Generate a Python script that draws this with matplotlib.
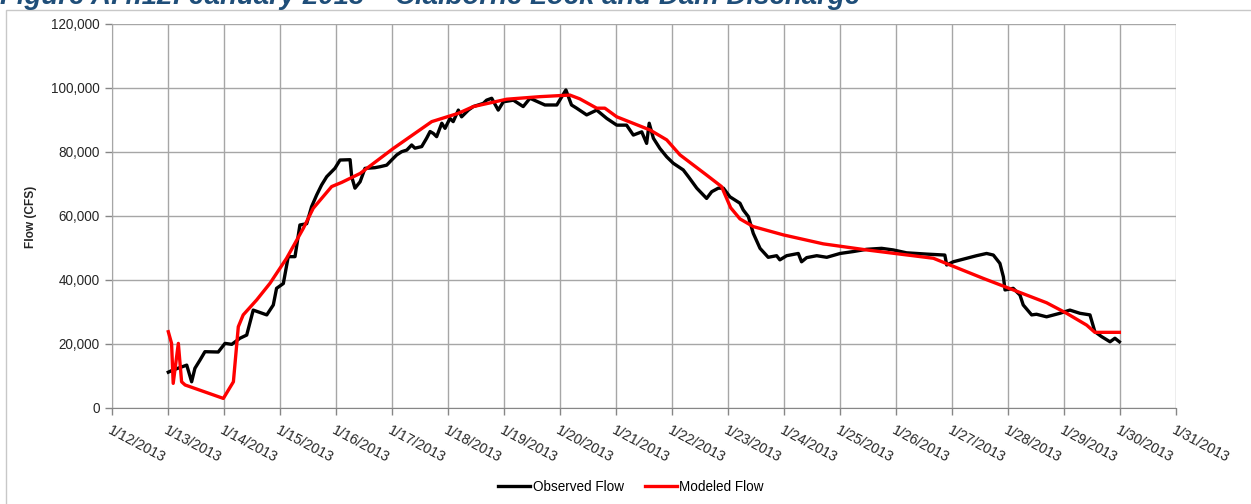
import pandas as pd
import matplotlib
matplotlib.use("Agg")
import matplotlib.pyplot as plt
import matplotlib.dates as mdates
from matplotlib.patches import Rectangle
from matplotlib.ticker import FuncFormatter, MultipleLocator

plt.rcParams['font.family'] = ['Liberation Sans', 'DejaVu Sans']

# hours after 1/13/2013 00:00, flow in cfs
obs_hours = [0, 2.1, 7.9, 10, 11.4, 13.6, 15.7, 21.4, 24.3, 27.2, 30.7, 33.6,
             36.4, 42.2, 45, 46.4, 49.3, 51.4, 54.3, 56.4, 59.3, 61.4, 63.6,
             65.7, 67.9, 71.4, 73.6, 77.9, 78.6, 80, 82.2, 84.3, 88.5, 90.7,
             93.6, 95.7, 97.9, 100, 102.2, 104.3, 105.7, 108.6, 110.7, 112.2,
             113.6, 115, 117.2, 118.6, 120.7, 122.1, 124.3, 125.7, 128.6,
             130.7, 135, 136.4, 138.6, 141.4, 143.6, 147.9, 152.1, 155, 161.4,
             166.5, 170.4, 172.8, 175, 179.3, 183.6, 187.9, 192.2, 196.4,
             199.3, 202.9, 205, 206.1, 207.9, 210.7, 213.6, 216.4, 220.7,
             222.9, 226.5, 230.7, 232.9, 235.7, 237.9, 240.7, 245, 246.4,
             248.6, 250.7, 253.6, 257.1, 260.7, 262.1, 265, 270, 271.4, 273.6,
             277.9, 282.2, 287.9, 293.6, 299.3, 305.7, 310.7, 316.4, 325,
             332.8, 333.6, 336.4, 342.2, 346.4, 350.7, 353.6, 356.4, 357.9,
             358.6, 362.1, 365, 366.4, 370, 372.1, 376.4, 382.1, 386.4, 390.7,
             395, 397.1, 400, 403.6, 405.7, 407.6]
obs_flow = [11100, 11800, 13300, 8100, 12300, 14900, 17500, 17400, 20100,
            19800, 21700, 22700, 30500, 29000, 32100, 37300, 38800, 47200,
            47200, 57100, 57500, 62800, 66500, 69600, 72200, 74800, 77400,
            77500, 72200, 68600, 70600, 74800, 75000, 75300, 75800, 77400,
            79000, 80000, 80500, 82100, 81100, 81600, 84200, 86300, 85700,
            84700, 88900, 87300, 90400, 89400, 93000, 90900, 93000, 94100,
            95100, 96100, 96700, 93000, 95600, 96100, 94100, 96700, 94600,
            94600, 99300, 94600, 93600, 91500, 93000, 90400, 88300, 88300,
            85200, 86200, 82600, 88900, 84200, 81000, 78400, 76400, 74300,
            72200, 68600, 65400, 67500, 68600, 68600, 65900, 63900, 61800,
            59700, 54500, 49800, 47000, 47500, 46200, 47500, 48200, 45600,
            46900, 47500, 47000, 48200, 48800, 49500, 49800, 49300, 48400,
            48000, 47700, 44600, 45600, 46700, 47500, 48200, 47700, 45100,
            40900, 36800, 37300, 35200, 32100, 29000, 29200, 28400, 29500,
            30500, 29500, 29000, 23750, 22200, 20600, 21700, 20600]

mod_hours = [0, 1.4, 2.1, 4.3, 5.7, 7.2, 23.6, 27.9, 30, 32.1, 37.9, 43.6,
             50.7, 57.9, 62.1, 70, 74.3, 82.2, 96.4, 112.9, 124.3, 130.7, 145,
             159.3, 172.1, 176.4, 183.6, 187.1, 192.2, 206.4, 213.6, 219.3,
             230.7, 237.1, 241, 245, 250.7, 263.6, 280.7, 299.3, 313.6, 327.9,
             335, 349.3, 359.3, 376.4, 385, 393.6, 397.1, 407.6]
mod_flow = [23750, 20100, 7600, 20100, 8100, 7100, 2900, 8100, 25300, 29000,
            33700, 38900, 46700, 56100, 62300, 69100, 70400, 73200, 81000,
            89400, 92000, 94100, 96400, 97200, 97700, 96500, 93600, 93600,
            90900, 86800, 83700, 79000, 72700, 69100, 62500, 59000, 56600,
            54000, 51200, 49300, 48000, 46700, 44600, 40400, 37600, 32800,
            29500, 25800, 23550, 23550]

start = pd.Timestamp('2013-01-13')
obs_time = start + pd.to_timedelta(obs_hours, unit='h')
mod_time = start + pd.to_timedelta(mod_hours, unit='h')

W, H = 1251, 504
fig = plt.figure(figsize=(W / 100, H / 100), dpi=100)
ax = fig.add_axes([112.3 / W, 1 - 407.7 / H, 1064 / W, 384 / H])

ax.plot(obs_time, obs_flow, color='black', lw=2.4, label='Observed Flow')
ax.plot(mod_time, mod_flow, color='#FF0000', lw=2.4, label='Modeled Flow')

ax.set_xlim(pd.Timestamp('2013-01-12'), pd.Timestamp('2013-01-31'))
ax.set_ylim(0, 120000)
ax.yaxis.set_major_locator(MultipleLocator(20000))
ax.yaxis.set_major_formatter(FuncFormatter(lambda v, p: f"{int(v):,}"))
ax.xaxis.set_major_locator(mdates.DayLocator())


def date_label(v, p):
    d = mdates.num2date(v)
    return f"{d.month}/{d.day}/{d.year}"


ax.xaxis.set_major_formatter(FuncFormatter(date_label))

ax.grid(True, color='#A6A6A6', lw=1)
ax.set_axisbelow(True)
for s in ['top', 'right']:
    ax.spines[s].set_visible(False)
ax.spines['left'].set_color('#A6A6A6')
ax.spines['bottom'].set_color('#868686')
ax.tick_params(axis='both', colors='#868686', labelcolor='#262626',
               labelsize=9.75, length=5, width=1)
ax.tick_params(axis='y', pad=4)
ax.tick_params(axis='x', pad=6, labelsize=10.2)
for lab in ax.get_xticklabels():
    lab.set_rotation(-28)
    lab.set_ha('left')
    lab.set_va('top')
    lab.set_rotation_mode('anchor')

ax.set_ylabel('Flow (CFS)', fontsize=8.6, fontweight='bold', color='#262626')
ax.yaxis.set_label_coords(37 / W, 1 - 217 / H, transform=fig.transFigure)

fig.legend(loc='center', bbox_to_anchor=(631 / W, 1 - 487 / H),
           ncol=2, frameon=False, fontsize=9.75, handlelength=2.35,
           handletextpad=0.18, columnspacing=1.55)

# chart border
fig.patches.append(Rectangle((6 / W, -0.1), 1.2, 1 - 10 / H + 0.1,
                             transform=fig.transFigure, fill=False,
                             edgecolor='#C8C8C8', lw=1))

title = fig.text(0, 1 - 3.5 / H,
                 'Figure A.4.12: January 2013 \u2013 Claiborne Lock and Dam Discharge',
                 color='#1F4E79', fontsize=17, fontweight='bold',
                 style='italic', va='baseline', ha='left')
fig.canvas.draw()
w = title.get_window_extent().width
title.set_fontsize(17 * 862 / w)

fig.savefig('out.png', dpi=100)
